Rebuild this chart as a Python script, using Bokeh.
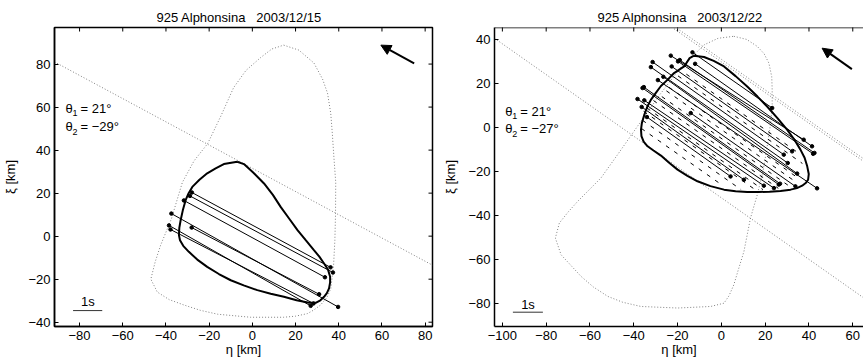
import math
from bokeh.plotting import figure
from bokeh.models import (Range1d, Arrow, NormalHead, FixedTicker, Title, Span)
from bokeh.layouts import row
from bokeh.embed import file_html
from bokeh.resources import INLINE
from bokeh.core.properties import value

FONT = "Liberation Sans"
FS = "13px"

# ---------------- Panel 1 : 2003/12/15 ----------------
p1_title = "925 Alphonsina \u00a0 2003/12/15"
p1_xticks = [-80, -60, -40, -20, 0, 20, 40, 60, 80]
p1_xtick_labels = ["\u221280", "\u221260", "\u221240", "\u221220", "0", "20", "40", "60", "80"]
p1_yticks = [-40, -20, 0, 20, 40, 60, 80]
p1_ytick_labels = ["\u221240", "\u221220", "0", "20", "40", "60", "80"]

p1_model = [(-7, 34.6), (-3.9, 33.5), (0.5, 29.5), (5.4, 24.5), (9.5, 19.2), (13.1, 13.6),
            (17, 8.2), (20.9, 2.8), (24.8, -2), (28.5, -6.5), (31, -9.5), (33.2, -12.7),
            (35, -15.5), (36, -18.9), (36, -21.5), (35.5, -24.3), (34.5, -26.5), (33.2, -28.2),
            (31.5, -29.8), (29.3, -31), (26.2, -31), (20.5, -29.8), (14.6, -28.2), (8.5, -26.8),
            (2.3, -25.1), (-4, -22.9), (-10, -20.5), (-15.5, -17.6), (-20.9, -14.3), (-25.5, -10.9),
            (-29.4, -7.3), (-32, -4.5), (-33.5, -1.9), (-34, 0.5), (-33.8, 4), (-33.2, 7.4),
            (-32.2, 12), (-30.9, 16.7), (-29.5, 20), (-27.8, 22.9), (-24.5, 26.2), (-20.9, 29.2),
            (-17, 31.5), (-13.2, 33.5), (-7, 34.6)]
p1_alt = [(14.5, 88.8), (21.5, 86.5), (28.5, 80.5), (32.5, 73), (34.8, 66.5), (36.3, 57),
          (37, 48), (37.8, 36), (38.6, 25), (38.5, 10), (38.2, -2), (37.6, -13.5), (36.3, -24.5),
          (34.5, -28.5), (31.6, -32), (28.5, -34.3), (25.5, -36), (20, -37.2), (14.5, -37.7),
          (-0.8, -37.7), (-16, -36.3), (-24, -34.5), (-31.7, -32), (-38.5, -29.5), (-44, -26),
          (-47, -20), (-45, -12), (-42.5, -4.3), (-37.5, 8), (-32.4, 25), (-27, 35), (-20.7, 43),
          (-14.5, 56), (-8.7, 69), (-3, 77), (3.8, 83), (9, 87), (14.5, 88.8)]
p1_limb_x = [[-91.6, 83.4]]
p1_limb_y = [[81.0, -13.5]]
p1_chord_x0 = [-28.0, -28.9, -31.7, -37.5, -38.6, -37.9, -28.1]
p1_chord_y0 = [20.3, 18.7, 16.6, 10.5, 5.0, 3.1, 4.0]
p1_chord_x1 = [36.2, 37.3, 33.6, 39.7, 27.0, 28.3, 30.9]
p1_chord_y1 = [-14.5, -16.9, -19.1, -32.9, -32.4, -31.3, -27.0]
p1_arrow = [74.9, 80.3, 59.5, 88.8]
p1_scale_x = [-83.0, -69.5]
p1_scale_y = [-34.6, -34.6]
p1_scale_label = [(-76.1, -30.4, "1s")]
p1_theta_pos = [(-86.5, 59.4), (-86.5, 50.8)]
p1_theta_vals = ["= 21\u00b0", "= \u221229\u00b0"]

# ---------------- Panel 2 : 2003/12/22 ----------------
p2_title = "925 Alphonsina \u00a0 2003/12/22"
p2_xticks = [-100, -80, -60, -40, -20, 0, 20, 40, 60]
p2_xtick_labels = ["\u2212100", "\u221280", "\u221260", "\u221240", "\u221220", "0", "20", "40", "60"]
p2_yticks = [-80, -60, -40, -20, 0, 20, 40]
p2_ytick_labels = ["\u221280", "\u221260", "\u221240", "\u221220", "0", "20", "40"]

p2_model = [(-12.5, 32.6), (-7.9, 32), (-3.5, 30.2), (1.2, 27.7), (6.5, 23.3), (11.8, 18.6),
            (16.5, 14), (20.9, 9.5), (25.5, 4.3), (30, -1), (33.3, -5.5), (36.1, -10.1),
            (38, -13.8), (39.2, -17.7), (39.9, -21.2), (39.6, -23.8), (38.5, -25.3), (36.9, -26.5),
            (34.5, -27.6), (31.6, -28.3), (27, -28.9), (22, -29.2), (17, -29.4), (11.8, -29.4),
            (6.5, -29), (1.2, -28.3), (-5, -26.7), (-10.9, -24.5), (-15.5, -22), (-20, -19.2),
            (-24, -16), (-27.6, -12.8), (-31, -10.5), (-33.7, -8.6), (-35.5, -6.5), (-36.5, -4),
            (-36.7, -1), (-36.3, 2), (-35.2, 5.7), (-33.8, 9.5), (-32.2, 12.5), (-30, 15.6),
            (-27.6, 18.8), (-24.5, 21.7), (-21.6, 24.7), (-17, 27.7), (-14.5, 31.5), (-12.5, 32.6)]
p2_alt = [(5.7, 41.4), (11.5, 40), (16.4, 36.8), (19.5, 33.5), (21.7, 29.2), (23, 23),
          (23.2, 17.1), (23.2, 9.5), (22.5, 2), (21.5, -5), (20.3, -12.5), (19, -20),
          (16.4, -30.6), (13.3, -41.2), (10.3, -56.4), (7.5, -65.5), (5.7, -71.5), (3.5, -76.5),
          (1.2, -79.9), (-4.9, -81.4), (-20, -82.1), (-36.7, -81.4), (-45, -79.5), (-51.9, -76.8),
          (-58.5, -72.5), (-64.1, -67.7), (-73.2, -57.9), (-75.8, -50.3), (-74, -43.5),
          (-70, -38.5), (-65.6, -33.6), (-55, -23), (-47.4, -12.4), (-38.3, 0.5), (-28, 15),
          (-18, 28), (-12, 33.5), (-7.9, 37.5), (-1.5, 40.5), (5.7, 41.4)]
p2_limb_x = [[-103.6, 66.0], [-21.6, 66.0], [-20.2, 66.0]]
p2_limb_y = [[40.5, -78.2], [44.8, -16.2], [45.0, -15.0]]
p2_chord_x0 = [-13.2, -23.1, -19.8, -19.0, -31.4, -32.2, -22.7, -36.0, -35.4, -38.3, -35.2,
               -36.4, -34.0, -14.0, -26.5, -29.0, -12.0]
p2_chord_y0 = [34.1, 32.6, 30.0, 30.6, 29.7, 27.4, 27.7, 17.9, 18.3, 12.9, 12.3,
               9.3, 4.7, 6.5, 23.0, 21.5, 28.9]
p2_chord_x1 = [23.2, 37.6, 41.9, 42.5, 28.5, 30.3, 32.3, 26.2, 26.8, 19.4, 24.0,
               10.3, 4.2, 33.8, 34.6, 43.7, 41.4]
p2_chord_y1 = [8.8, -5.6, -12.0, -11.6, -12.4, -16.2, -10.9, -26.0, -25.6, -26.5, -27.6,
               -23.8, -22.3, -26.8, -21.0, -27.7, -8.6]
p2_dash_x0 = [-16.0, -19.8, -23.9, -25.1, -27.2, -31.0, -34.0, -35.5, -36.0, -36.5]
p2_dash_y0 = [24.2, 23.4, 18.2, 16.6, 14.0, 12.2, 8.8, 7.3, 3.2, -0.5]
p2_dash_x1 = [36.0, 37.0, 35.0, 33.0, 31.0, 26.0, 19.0, 15.0, 9.0, 0.0]
p2_dash_y1 = [-12.2, -16.4, -23.0, -24.1, -26.7, -27.7, -28.3, -28.0, -28.3, -26.0]
p2_arrow = [59.6, 26.5, 46.0, 36.0]
p2_scale_x = [-95.2, -81.5]
p2_scale_y = [-84.0, -84.0]
p2_scale_label = [(-88.3, -80.3, "1s")]
p2_theta_pos = [(-98.7, 7.3), (-98.7, -0.6)]
p2_theta_vals = ["= 21\u00b0", "= \u221227\u00b0"]


def style_axis(ax, ticks, labels, label_standoff, title_standoff):
    ax.ticker = FixedTicker(ticks=ticks)
    ax.major_label_overrides = {t: l for t, l in zip(ticks, labels)}
    ax.major_tick_in = 4
    ax.major_tick_out = 0
    ax.minor_tick_line_color = None
    ax.axis_line_width = 1.5
    ax.major_tick_line_width = 1
    ax.axis_line_color = "black"
    ax.major_tick_line_color = "black"
    ax.major_label_text_font = FONT
    ax.major_label_text_font_size = FS
    ax.major_label_text_color = "black"
    ax.major_label_standoff = label_standoff
    ax.axis_label_text_font = FONT
    ax.axis_label_text_font_size = FS
    ax.axis_label_text_font_style = "normal"
    ax.axis_label_text_color = "black"
    ax.axis_label_standoff = title_standoff


def make_panel(title, title_offset, xr, yr, width, bl, br, xticks, xlabels, yticks, ylabels,
               model, alt, limb_x, limb_y, cx0, cy0, cx1, cy1, arrow, sx, sy, slabel,
               tpos, tvals, right_side=True, dash=None):
    p = figure(width=width, height=364, x_range=Range1d(*xr), y_range=Range1d(*yr),
               output_backend="svg", toolbar_location=None,
               min_border_left=bl, min_border_right=br, min_border_top=27, min_border_bottom=38,
               x_axis_label="\u03b7 [km]", y_axis_label="\u03be [km]")
    p.title = Title(text=title, align="left", offset=title_offset, text_font=FONT,
                    text_font_size=FS, text_font_style="normal", text_color="black", standoff=6)
    p.grid.visible = False
    p.background_fill_color = "white"
    p.border_fill_color = "white"
    style_axis(p.xaxis[0], xticks, xlabels, 4, -1)
    style_axis(p.yaxis[0], yticks, ylabels, 4, 7)
    if right_side:
        p.outline_line_color = "black"
        p.outline_line_width = 1.5
        p.outline_line_alpha = 1.0
    else:
        p.outline_line_color = None
        p.add_layout(Span(location=yr[1], dimension="width", line_color="black", line_width=1.5))

    # inward ticks on the top (and right) edges of the box
    p.scatter(xticks, [yr[1]] * len(xticks), marker="dash", angle=math.pi / 2, size=8,
              line_color="black", line_width=1)
    if right_side:
        p.scatter([xr[1]] * len(yticks), yticks, marker="dash", size=8,
                  line_color="black", line_width=1)

    # dotted alternative solution and limb lines
    p.line([a[0] for a in alt], [a[1] for a in alt], line_color="#808080",
           line_dash="1 2", line_width=1)
    p.multi_line(limb_x, limb_y, line_color="#808080", line_dash="1 2", line_width=1)
    # dashed chords
    if dash is not None:
        dx0, dy0, dx1, dy1 = dash
        p.segment(dx0, dy0, dx1, dy1, line_color="black", line_dash="4 6", line_width=1)
    # model outline
    p.line([m[0] for m in model], [m[1] for m in model], line_color="black", line_width=2)
    # chords
    p.segment(cx0, cy0, cx1, cy1, line_color="black", line_width=1)
    p.scatter(cx0 + cx1, cy0 + cy1, size=3.5, color="black")
    # direction arrow
    p.add_layout(Arrow(x_start=arrow[0], y_start=arrow[1], x_end=arrow[2], y_end=arrow[3],
                       line_width=2, line_color="black",
                       end=NormalHead(size=10, fill_color="black", line_color="black")))
    # 1s scale bar
    p.line(sx, sy, line_color="#333333", line_width=1)
    p.text([s[0] for s in slabel], [s[1] for s in slabel], text=[s[2] for s in slabel],
           text_font=value(FONT), text_font_size=FS, text_align="center",
           text_baseline="middle", text_color="black")
    # theta labels
    tx = [t[0] for t in tpos]
    ty = [t[1] for t in tpos]
    p.text(tx, ty, text=["\u03b8", "\u03b8"], text_font=value(FONT), text_font_size=FS,
           text_align="left", text_baseline="middle", text_color="black")
    p.text(tx, ty, text=["1", "2"], text_font=value(FONT), text_font_size="9px",
           text_align="left", text_baseline="middle", text_color="black",
           x_offset=7, y_offset=5)
    p.text(tx, ty, text=tvals, text_font=value(FONT), text_font_size=FS,
           text_align="left", text_baseline="middle", text_color="black", x_offset=15)
    return p


p1 = make_panel(p1_title, 102, (-91.6, 83.4), (-42.0, 97.0), 440, 54, 8,
                p1_xticks, p1_xtick_labels, p1_yticks, p1_ytick_labels,
                p1_model, p1_alt, p1_limb_x, p1_limb_y,
                p1_chord_x0, p1_chord_y0, p1_chord_x1, p1_chord_y1,
                p1_arrow, p1_scale_x, p1_scale_y, p1_scale_label,
                p1_theta_pos, p1_theta_vals)

p2 = make_panel(p2_title, 103, (-103.6, 64.9), (-90.5, 45.4), 423, 53, 0,
                p2_xticks, p2_xtick_labels, p2_yticks, p2_ytick_labels,
                p2_model, p2_alt, p2_limb_x, p2_limb_y,
                p2_chord_x0, p2_chord_y0, p2_chord_x1, p2_chord_y1,
                p2_arrow, p2_scale_x, p2_scale_y, p2_scale_label,
                p2_theta_pos, p2_theta_vals, right_side=False,
                dash=(p2_dash_x0, p2_dash_y0, p2_dash_x1, p2_dash_y1))

layout = row(p1, p2)
open("out.html", "w").write(file_html(layout, INLINE))
